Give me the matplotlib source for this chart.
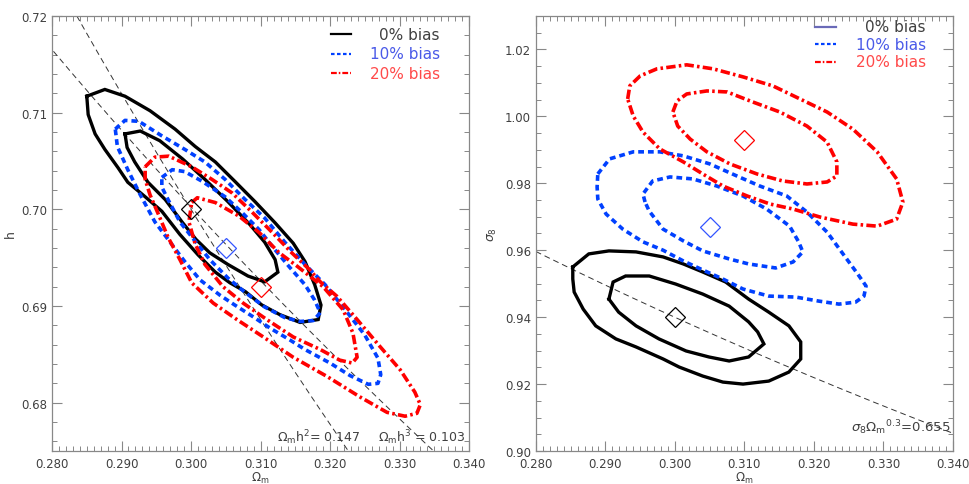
import matplotlib
matplotlib.use("Agg")
import matplotlib.pyplot as plt
import numpy as np
from matplotlib.ticker import MultipleLocator, FormatStrFormatter

# ---- left panel: Omega_m vs h contours ----
h_black_out_x = [0.2850, 0.2876, 0.2905, 0.2941, 0.2977, 0.3006, 0.3035, 0.3063, 0.3092, 0.3121,
                 0.3147, 0.3164, 0.3178, 0.3187, 0.3183, 0.3157, 0.3128, 0.3102, 0.3078, 0.3056,
                 0.3035, 0.3010, 0.2984, 0.2958, 0.2934, 0.2909, 0.2895, 0.2876, 0.2862, 0.2852]
h_black_out_y = [0.7117, 0.7124, 0.7117, 0.7102, 0.7083, 0.7065, 0.7049, 0.7029, 0.7008, 0.6986,
                 0.6965, 0.6946, 0.6922, 0.6901, 0.6886, 0.6883, 0.6891, 0.6901, 0.6915, 0.6924,
                 0.6935, 0.6953, 0.6974, 0.6998, 0.7013, 0.7028, 0.7043, 0.7062, 0.7078, 0.7098]
h_black_in_x = [0.2905, 0.2927, 0.2955, 0.2988, 0.3020, 0.3053, 0.3085, 0.3106, 0.3121, 0.3125,
                0.3106, 0.3082, 0.3053, 0.3027, 0.3007, 0.2987, 0.2963, 0.2938, 0.2919, 0.2908]
h_black_in_y = [0.7078, 0.7081, 0.7071, 0.7052, 0.7031, 0.7008, 0.6984, 0.6966, 0.6948, 0.6935,
                0.6925, 0.6931, 0.6943, 0.6955, 0.6969, 0.6987, 0.7010, 0.7028, 0.7049, 0.7064]
h_blue_out_x = [0.2891, 0.2905, 0.2925, 0.2958, 0.2991, 0.3020, 0.3049, 0.3078, 0.3106, 0.3135,
                0.3164, 0.3193, 0.3222, 0.3250, 0.3269, 0.3273, 0.3269, 0.3255, 0.3229, 0.3200,
                0.3164, 0.3142, 0.3114, 0.3089, 0.3063, 0.3042, 0.3013, 0.2991, 0.2970, 0.2948,
                0.2927, 0.2909, 0.2894]
h_blue_out_y = [0.7083, 0.7092, 0.7091, 0.7076, 0.7062, 0.7049, 0.7031, 0.7010, 0.6991, 0.6966,
                0.6943, 0.6922, 0.6896, 0.6870, 0.6846, 0.6829, 0.6820, 0.6819, 0.6828, 0.6841,
                0.6855, 0.6865, 0.6877, 0.6889, 0.6901, 0.6911, 0.6927, 0.6946, 0.6966, 0.6987,
                0.7015, 0.7041, 0.7065]
h_blue_in_x = [0.2958, 0.2973, 0.2991, 0.3016, 0.3049, 0.3073, 0.3098, 0.3121, 0.3142, 0.3164,
               0.3178, 0.3186, 0.3176, 0.3157, 0.3135, 0.3106, 0.3078, 0.3053, 0.3027, 0.3006,
               0.2984, 0.2967, 0.2958]
h_blue_in_y = [0.7033, 0.7041, 0.7039, 0.7029, 0.7013, 0.6997, 0.6979, 0.6958, 0.6940, 0.6922,
               0.6906, 0.6893, 0.6885, 0.6884, 0.6888, 0.6899, 0.6914, 0.6929, 0.6948, 0.6967,
               0.6987, 0.7010, 0.7023]
h_red_out_x = [0.2934, 0.2948, 0.2968, 0.3001, 0.3030, 0.3059, 0.3088, 0.3117, 0.3145, 0.3170,
               0.3186, 0.3210, 0.3239, 0.3272, 0.3301, 0.3322, 0.3330, 0.3325, 0.3308, 0.3282,
               0.3243, 0.3196, 0.3147, 0.3104, 0.3066, 0.3032, 0.3001, 0.2984, 0.2967, 0.2953,
               0.2941, 0.2934]
h_red_out_y = [0.7044, 0.7054, 0.7055, 0.7044, 0.7031, 0.7017, 0.6997, 0.6976, 0.6955, 0.6938,
               0.6925, 0.6910, 0.6886, 0.6858, 0.6834, 0.6811, 0.6798, 0.6789, 0.6786, 0.6790,
               0.6806, 0.6827, 0.6847, 0.6868, 0.6886, 0.6903, 0.6924, 0.6948, 0.6971, 0.6995,
               0.7015, 0.7031]
h_red_in_x = [0.3001, 0.3009, 0.3035, 0.3069, 0.3098, 0.3127, 0.3153, 0.3190, 0.3219, 0.3233,
              0.3239, 0.3232, 0.3214, 0.3186, 0.3147, 0.3109, 0.3075, 0.3046, 0.3020, 0.3006,
              0.2997]
h_red_in_y = [0.7007, 0.7012, 0.7007, 0.6993, 0.6976, 0.6955, 0.6941, 0.6920, 0.6896, 0.6872,
              0.6847, 0.6841, 0.6844, 0.6855, 0.6868, 0.6886, 0.6903, 0.6920, 0.6943, 0.6964,
              0.6987]

# ---- right panel: Omega_m vs sigma_8 contours ----
s_black_out_x = [0.2853, 0.2853, 0.2855, 0.2868, 0.2886, 0.2915, 0.2944, 0.2983, 0.3006, 0.3040,
                 0.3069, 0.3098, 0.3135, 0.3164, 0.3181, 0.3181, 0.3164, 0.3135, 0.3106, 0.3073,
                 0.3040, 0.3012, 0.2983, 0.2944, 0.2905, 0.2876]
s_black_out_y = [0.9550, 0.9514, 0.9475, 0.9424, 0.9374, 0.9335, 0.9311, 0.9275, 0.9251, 0.9224,
                 0.9206, 0.9200, 0.9209, 0.9236, 0.9275, 0.9326, 0.9374, 0.9415, 0.9454, 0.9505,
                 0.9535, 0.9559, 0.9580, 0.9595, 0.9598, 0.9589]
s_black_in_x = [0.2905, 0.2911, 0.2929, 0.2963, 0.3001, 0.3040, 0.3078, 0.3106, 0.3119, 0.3128,
                0.3106, 0.3078, 0.3049, 0.3016, 0.2977, 0.2944, 0.2919]
s_black_in_y = [0.9454, 0.9505, 0.9523, 0.9523, 0.9499, 0.9469, 0.9433, 0.9386, 0.9356, 0.9320,
                0.9281, 0.9269, 0.9281, 0.9299, 0.9335, 0.9374, 0.9415]
s_blue_out_x = [0.2889, 0.2906, 0.2940, 0.2978, 0.3012, 0.3050, 0.3089, 0.3122, 0.3161, 0.3190,
                0.3219, 0.3245, 0.3263, 0.3275, 0.3272, 0.3260, 0.3236, 0.3207, 0.3174, 0.3135,
                0.3098, 0.3069, 0.3040, 0.3012, 0.2983, 0.2954, 0.2925, 0.2901, 0.2889, 0.2888]
s_blue_out_y = [0.9828, 0.9873, 0.9894, 0.9894, 0.9882, 0.9858, 0.9822, 0.9792, 0.9762, 0.9714,
                0.9654, 0.9580, 0.9529, 0.9493, 0.9463, 0.9445, 0.9439, 0.9448, 0.9460, 0.9463,
                0.9484, 0.9514, 0.9541, 0.9568, 0.9600, 0.9625, 0.9663, 0.9708, 0.9753, 0.9789]
s_blue_in_x = [0.2957, 0.2954, 0.2968, 0.2993, 0.3026, 0.3060, 0.3098, 0.3132, 0.3165, 0.3178,
               0.3184, 0.3170, 0.3145, 0.3106, 0.3078, 0.3040, 0.3012, 0.2983, 0.2963]
s_blue_in_y = [0.9744, 0.9768, 0.9807, 0.9819, 0.9813, 0.9792, 0.9762, 0.9723, 0.9672, 0.9625,
               0.9595, 0.9565, 0.9547, 0.9559, 0.9574, 0.9598, 0.9628, 0.9663, 0.9717]
s_red_out_x = [0.2932, 0.2935, 0.2950, 0.2974, 0.3017, 0.3055, 0.3098, 0.3141, 0.3180, 0.3219,
               0.3256, 0.3291, 0.3319, 0.3328, 0.3319, 0.3291, 0.3256, 0.3209, 0.3170, 0.3137,
               0.3104, 0.3069, 0.3040, 0.3012, 0.2978, 0.2954, 0.2940]
s_red_out_y = [1.0052, 1.0091, 1.0121, 1.0142, 1.0154, 1.0142, 1.0118, 1.0091, 1.0052, 1.0013,
               0.9962, 0.9894, 0.9813, 0.9744, 0.9693, 0.9672, 0.9678, 0.9699, 0.9723, 0.9738,
               0.9762, 0.9792, 0.9828, 0.9864, 0.9903, 0.9953, 1.0001]
s_red_in_x = [0.2997, 0.3003, 0.3017, 0.3046, 0.3075, 0.3112, 0.3151, 0.3190, 0.3219, 0.3233,
              0.3233, 0.3219, 0.3190, 0.3155, 0.3118, 0.3079, 0.3046, 0.3022, 0.3004]
s_red_in_y = [1.0013, 1.0046, 1.0067, 1.0076, 1.0073, 1.0043, 1.0013, 0.9971, 0.9923, 0.9864,
              0.9822, 0.9804, 0.9798, 0.9807, 0.9828, 0.9858, 0.9894, 0.9932, 0.9971]

# fiducial points (0%, 10%, 20% bias)
fid_om = [0.300, 0.305, 0.310]
fid_h = [0.700, 0.696, 0.692]
fid_s8 = [0.940, 0.967, 0.993]

# degeneracy directions
omh2 = 0.147
omh3 = 0.103
s8om = 0.655

BLACK = "black"
BLUE = "#0040ff"
RED = "#ff0000"
GRAY = "#404040"

styles = {
    "black": dict(color=BLACK, lw=2.4, ls="-"),
    "blue": dict(color=BLUE, lw=2.6, ls=(0, (1.6, 1.1))),
    "red": dict(color=RED, lw=2.6, ls=(0, (2.6, 0.9, 0.7, 0.9))),
}


def closed(x, y):
    return list(x) + [x[0]], list(y) + [y[0]]


def style_axes(ax, ymajor, yminor):
    ax.set_xlim(0.280, 0.340)
    ax.xaxis.set_major_locator(MultipleLocator(0.01))
    ax.xaxis.set_minor_locator(MultipleLocator(0.001))
    ax.xaxis.set_major_formatter(FormatStrFormatter("%.3f"))
    ax.yaxis.set_major_locator(MultipleLocator(ymajor))
    ax.yaxis.set_minor_locator(MultipleLocator(yminor))
    ax.yaxis.set_major_formatter(FormatStrFormatter("%.2f"))
    ax.tick_params(which="both", direction="in", top=True, right=True,
                   colors="#888888", labelcolor=GRAY, labelsize=8.5)
    ax.tick_params(which="major", length=7, width=0.8)
    ax.tick_params(which="minor", length=3.5, width=0.7)
    ax.tick_params(axis="x", pad=4)
    for sp in ax.spines.values():
        sp.set_color("#888888")
        sp.set_linewidth(0.9)


def legend(ax, x0, x1, xt, ys, first_color):
    labels = ["0% bias", "10% bias", "20% bias"]
    tcolors = [GRAY, "#4a5ae8", "#ff4a4a"]
    keys = ["black", "blue", "red"]
    for i, (lab, tc, k) in enumerate(zip(labels, tcolors, keys)):
        st = dict(styles[k])
        st["lw"] = 1.6
        if i == 0:
            st["color"] = first_color
        ax.plot([x0, x1], [ys[i], ys[i]], transform=ax.transAxes, **st)
        ax.text(xt, ys[i], lab, transform=ax.transAxes, ha="right", va="center",
                color=tc, fontsize=11)


fig = plt.figure(figsize=(9.69, 4.85), dpi=100)
axl = fig.add_axes([0.0537, 0.068, 0.4303, 0.897])
axr = fig.add_axes([0.5531, 0.068, 0.4303, 0.897])

# ---- left panel ----
om = np.linspace(0.27, 0.35, 400)
axl.plot(om, np.sqrt(omh2 / om), color="#333333", lw=0.7, ls=(0, (6, 4)))
axl.plot(om, (omh3 / om) ** (1.0 / 3.0), color="#333333", lw=0.7, ls=(0, (6, 4)))
for (x, y, k) in [(h_black_out_x, h_black_out_y, "black"), (h_black_in_x, h_black_in_y, "black"),
                  (h_blue_out_x, h_blue_out_y, "blue"), (h_blue_in_x, h_blue_in_y, "blue"),
                  (h_red_out_x, h_red_out_y, "red"), (h_red_in_x, h_red_in_y, "red")]:
    cx, cy = closed(x, y)
    axl.plot(cx, cy, solid_joinstyle="miter", **styles[k])
for om_i, h_i, c in zip(fid_om, fid_h, [BLACK, "#3355ff", RED]):
    axl.plot(om_i, h_i, marker="D", ms=10, mfc="none", mec=c, mew=0.9)
style_axes(axl, 0.01, 0.002)
axl.set_ylim(0.675, 0.720)
axl.set_xlabel(r"$\Omega_{\rm m}$", color=GRAY, fontsize=8.5, labelpad=0)
axl.set_ylabel("h", color=GRAY, fontsize=9, labelpad=3)
axl.text(0.54, 0.034, r"$\Omega_{\rm m}$h$^2$= 0.147", transform=axl.transAxes,
         color=GRAY, fontsize=9, va="center")
axl.text(0.782, 0.034, r"$\Omega_{\rm m}$h$^3$ = 0.103", transform=axl.transAxes,
         color=GRAY, fontsize=9, va="center")
legend(axl, 0.668, 0.718, 0.93, [0.958, 0.913, 0.868], BLACK)

# ---- right panel ----
axr.plot(om, s8om / om ** 0.3, color="#333333", lw=0.7, ls=(0, (6, 4)))
for (x, y, k) in [(s_black_out_x, s_black_out_y, "black"), (s_black_in_x, s_black_in_y, "black"),
                  (s_blue_out_x, s_blue_out_y, "blue"), (s_blue_in_x, s_blue_in_y, "blue"),
                  (s_red_out_x, s_red_out_y, "red"), (s_red_in_x, s_red_in_y, "red")]:
    cx, cy = closed(x, y)
    axr.plot(cx, cy, solid_joinstyle="miter", **styles[k])
for om_i, s_i, c in zip(fid_om, fid_s8, [BLACK, "#3355ff", RED]):
    axr.plot(om_i, s_i, marker="D", ms=10, mfc="none", mec=c, mew=0.9)
style_axes(axr, 0.02, 0.005)
axr.set_ylim(0.90, 1.03)
axr.set_xlabel(r"$\Omega_{\rm m}$", color=GRAY, fontsize=8.5, labelpad=0)
axr.set_ylabel(r"$\sigma_8$", color=GRAY, fontsize=9, labelpad=4)
axr.text(0.995, 0.055, r"$\sigma_8\Omega_{\rm m}$$^{0.3}$=0.655", transform=axr.transAxes,
         color=GRAY, fontsize=9.5, ha="right", va="center")
legend(axr, 0.670, 0.720, 0.935, [0.975, 0.935, 0.895], "#6a6ab8")

fig.savefig("out.png", dpi=100)
